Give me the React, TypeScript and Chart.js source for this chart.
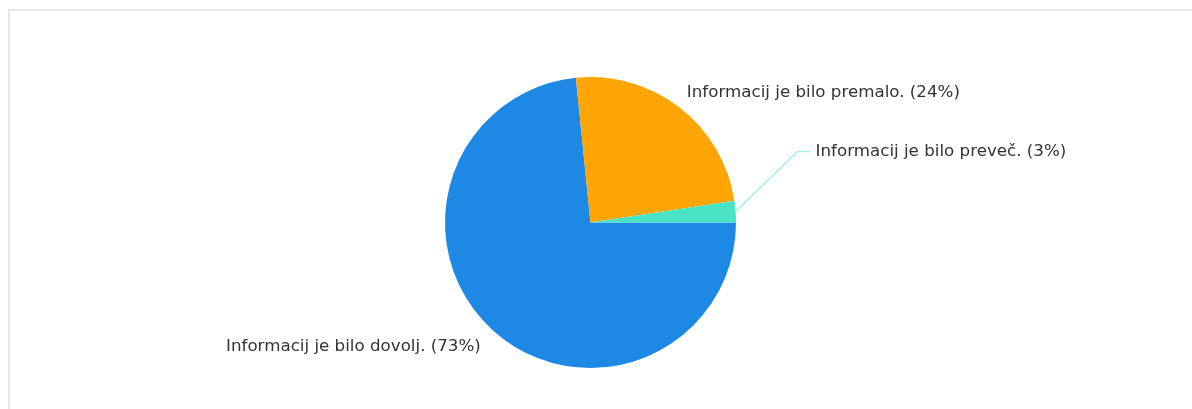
import React, { useEffect, useRef } from "react";
import { Chart, registerables } from "chart.js";

Chart.register(...registerables);

const categories = [
  "Informacij je bilo dovolj.",
  "Informacij je bilo premalo.",
  "Informacij je bilo preveč.",
];
// slice sizes
const sliceValues = [73.4, 24.2, 2.4];
// percentages as printed in the labels
const labelPercents = [73, 24, 3];
const colors = ["#1e88e5", "#ffa505", "#4ae3c4"];
const connectorColors = ["#8fc3f2", "#ffd282", "#a0f2e2"];

const labelPlugin = {
  id: "pieLabels",
  afterDatasetsDraw(chart: any) {
    const ctx = chart.ctx;
    const meta = chart.getDatasetMeta(0);
    const font = "16.7px 'DejaVu Sans', sans-serif";
    ctx.save();
    ctx.font = font;
    ctx.fillStyle = "#333333";
    ctx.textBaseline = "middle";
    meta.data.forEach((arc: any, i: number) => {
      const { x, y, startAngle, endAngle, outerRadius } = arc.getProps(
        ["x", "y", "startAngle", "endAngle", "outerRadius"],
        true
      );
      const mid = (startAngle + endAngle) / 2;
      const cos = Math.cos(mid);
      const sin = Math.sin(mid);
      const text = `${categories[i]} (${labelPercents[i]}%)`;
      const small = sliceValues[i] < 5;
      if (small) {
        const px = x + outerRadius * cos;
        const py = y + outerRadius * sin;
        const ex = px + 62;
        const ey = py - 60;
        ctx.strokeStyle = connectorColors[i];
        ctx.lineWidth = 1.6;
        ctx.beginPath();
        ctx.moveTo(px, py);
        ctx.lineTo(ex, ey);
        ctx.lineTo(ex + 13, ey);
        ctx.stroke();
        ctx.textAlign = "left";
        ctx.fillText(text, ex + 18, ey);
      } else {
        const r = outerRadius + 15;
        const lx = x + r * cos;
        const ly = y + r * sin;
        ctx.textAlign = cos >= 0 ? "left" : "right";
        ctx.fillText(text, lx + (cos >= 0 ? -2 : -2), ly + (sin >= 0 ? 5 : -3));
      }
    });
    ctx.restore();
  },
};

export default function App() {
  const canvasRef = useRef<HTMLCanvasElement | null>(null);

  useEffect(() => {
    document.body.style.margin = "0";
    const canvas = canvasRef.current;
    if (!canvas) return;
    const chart = new Chart(canvas, {
      type: "pie",
      data: {
        labels: categories,
        datasets: [
          {
            data: sliceValues,
            backgroundColor: colors,
            borderWidth: 0,
          },
        ],
      },
      options: {
        animation: false,
        responsive: false,
        rotation: 90,
        layout: { padding: { top: 77, bottom: 41, left: 0, right: 11 } },
        plugins: {
          legend: { display: false },
          tooltip: { enabled: false },
        },
      },
      plugins: [labelPlugin],
    });
    return () => chart.destroy();
  }, []);

  return (
    <div style={{ position: "relative", width: 1192, height: 409, background: "#ffffff" }}>
      <canvas ref={canvasRef} width={1192} height={409} style={{ display: "block" }} />
      <div
        style={{
          position: "absolute",
          left: 8,
          top: 9,
          right: 0,
          bottom: 0,
          borderTop: "2px solid #e6e6e6",
          borderLeft: "2px solid #e6e6e6",
          pointerEvents: "none",
        }}
      />
    </div>
  );
}
